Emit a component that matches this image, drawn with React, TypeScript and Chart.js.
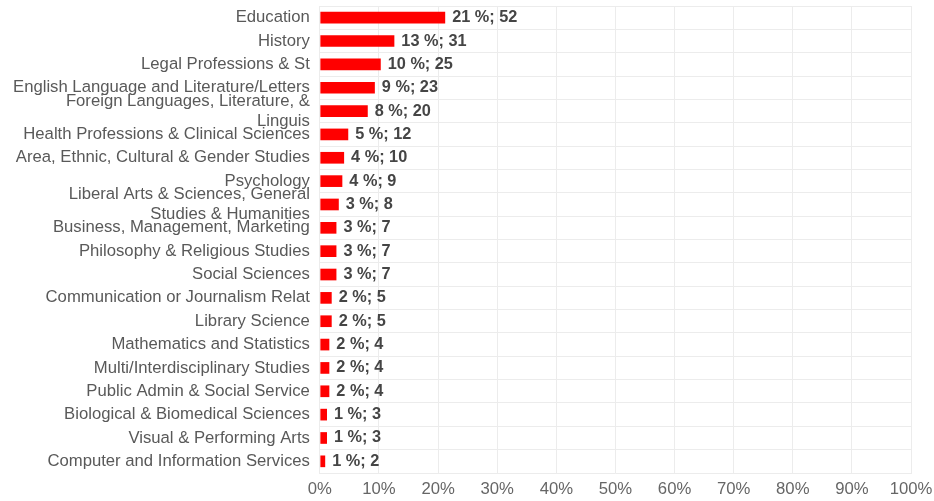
import React, { useEffect, useRef } from "react";
import { Chart, registerables } from "chart.js";

Chart.register(...registerables);

const categories: (string | string[])[] = [
  "Education",
  "History",
  "Legal Professions & St",
  "English Language and Literature/Letters",
  ["Foreign Languages, Literature, &", "Linguis"],
  "Health Professions & Clinical Sciences",
  "Area, Ethnic, Cultural & Gender Studies",
  "Psychology",
  ["Liberal Arts & Sciences, General", "Studies & Humanities"],
  "Business, Management, Marketing",
  "Philosophy & Religious Studies",
  "Social Sciences",
  "Communication or Journalism Relat",
  "Library Science",
  "Mathematics and Statistics",
  "Multi/Interdisciplinary Studies",
  "Public Admin & Social Service",
  "Biological & Biomedical Sciences",
  "Visual & Performing Arts",
  "Computer and Information Services",
];

const sharePercent = [21.2, 12.6, 10.3, 9.3, 8.1, 4.8, 4.1, 3.8, 3.2, 2.8, 2.8, 2.8, 2.0, 2.0, 1.6, 1.6, 1.6, 1.2, 1.2, 0.9];
const labelPercent = [21, 13, 10, 9, 8, 5, 4, 4, 3, 3, 3, 3, 2, 2, 2, 2, 2, 1, 1, 1];
const counts = [52, 31, 25, 23, 20, 12, 10, 9, 8, 7, 7, 7, 5, 5, 4, 4, 4, 3, 3, 2];

const FONT = "'Liberation Sans', Arial, sans-serif";

const valueLabels = {
  id: "valueLabels",
  afterDatasetsDraw(chart: any) {
    const ctx = chart.ctx;
    const meta = chart.getDatasetMeta(0);
    ctx.save();
    ctx.font = `bold 16.3px ${FONT}`;
    ctx.fillStyle = "#454545";
    ctx.textAlign = "left";
    ctx.textBaseline = "middle";
    meta.data.forEach((bar: any, i: number) => {
      ctx.fillText(`${labelPercent[i]} %; ${counts[i]}`, bar.x + 7, bar.y);
    });
    ctx.restore();
  },
};

export default function App() {
  const ref = useRef<HTMLCanvasElement>(null);
  useEffect(() => {
    document.body.style.margin = "0";
    document.body.style.overflow = "hidden";
    const chart = new Chart(ref.current!, {
      type: "bar",
      data: {
        labels: categories,
        datasets: [
          {
            data: sharePercent,
            backgroundColor: "#ff0000",
            borderWidth: 0,
            barPercentage: 0.5,
            categoryPercentage: 1,
          },
        ],
      },
      options: {
        indexAxis: "y",
        animation: false,
        responsive: false,
        maintainAspectRatio: false,
        layout: { padding: { left: 3, right: 23, top: 6, bottom: 0 } },
        plugins: {
          legend: { display: false },
          tooltip: { enabled: false },
        },
        scales: {
          x: {
            min: 0,
            max: 100,
            ticks: {
              stepSize: 10,
              padding: 6,
              color: "#666666",
              font: { family: FONT, size: 16.7 },
              callback: (v: any) => `${v}%`,
            },
            grid: { color: "#ececec", drawTicks: false },
            border: { color: "#ececec" },
            afterFit: (scale: any) => {
              scale.paddingRight = 0;
              scale.paddingLeft = 0;
              scale.height = 28;
            },
          },
          y: {
            ticks: {
              padding: 10,
              color: "#595959",
              font: { family: FONT, size: 16.7 },
              autoSkip: false,
            },
            grid: { color: "#ececec", drawTicks: false },
            border: { color: "#ececec" },
            afterFit: (scale: any) => {
              scale.paddingTop = 0;
              scale.paddingBottom = 0;
            },
          },
        },
      },
      plugins: [valueLabels],
    });
    return () => chart.destroy();
  }, []);
  return <canvas ref={ref} width={934} height={501} style={{ display: "block" }} />;
}
